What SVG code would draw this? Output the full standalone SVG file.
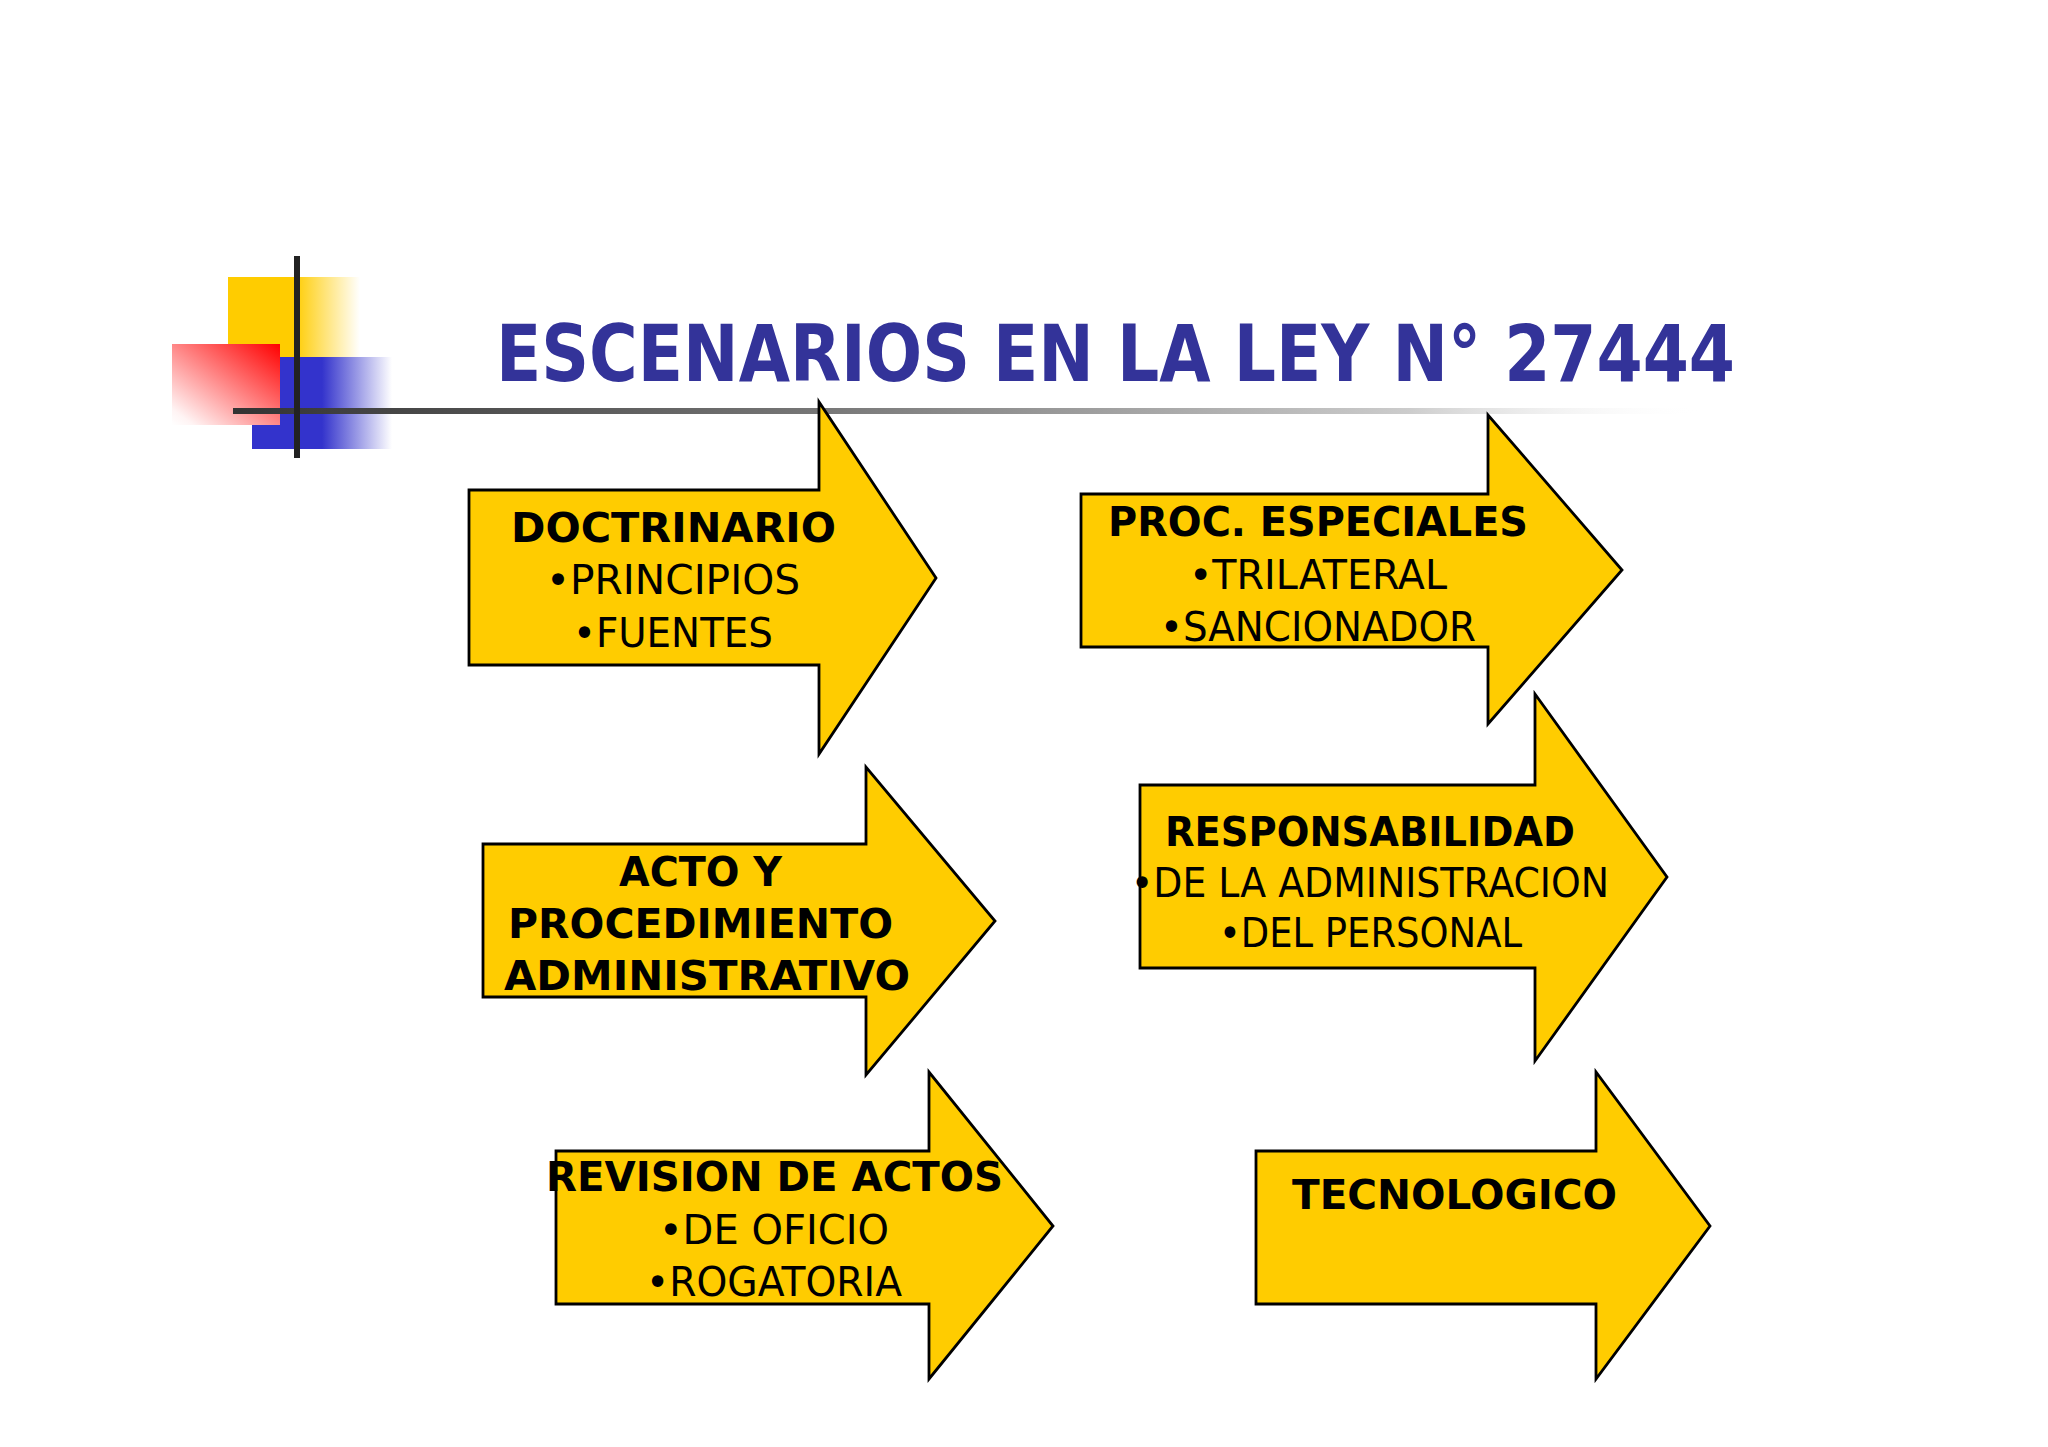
<svg xmlns="http://www.w3.org/2000/svg" width="2048" height="1447" viewBox="0 0 2048 1447">
<defs>
<style>
.arrow{fill:#FFCC00;stroke:#000;stroke-width:2.8;stroke-linejoin:miter}
.b{font-family:"DejaVu Sans","Liberation Sans",sans-serif;font-weight:bold;font-size:40px;fill:#000}
.r{font-family:"DejaVu Sans","Liberation Sans",sans-serif;font-size:40px;fill:#000}
.title{font-family:"DejaVu Sans","Liberation Sans",sans-serif;font-weight:bold;font-size:78px;fill:#333399}
</style>
<linearGradient id="gy" x1="0" y1="0" x2="1" y2="0">
<stop offset="0" stop-color="#FFCC00"/><stop offset="0.5" stop-color="#FFCC00"/><stop offset="1" stop-color="#FFCC00" stop-opacity="0"/>
</linearGradient>
<linearGradient id="gb" x1="0" y1="0" x2="1" y2="0">
<stop offset="0" stop-color="#3333CC"/><stop offset="0.5" stop-color="#3333CC"/><stop offset="1" stop-color="#3333CC" stop-opacity="0"/>
</linearGradient>
<linearGradient id="gr" x1="1" y1="0" x2="0" y2="1">
<stop offset="0" stop-color="#FF0000"/><stop offset="0.9" stop-color="#FFF4F4"/><stop offset="1" stop-color="#FFFFFF"/>
</linearGradient>
<linearGradient id="gl" x1="0" y1="0" x2="1" y2="0">
<stop offset="0" stop-color="#333333"/><stop offset="0.4" stop-color="#777777"/><stop offset="0.8" stop-color="#cccccc"/><stop offset="1" stop-color="#ffffff" stop-opacity="0"/>
</linearGradient>
</defs>
<rect width="2048" height="1447" fill="#ffffff"/>
<g id="logo">
<rect x="228" y="277" width="132" height="80" fill="url(#gy)"/>
<rect x="252" y="357" width="140" height="92" fill="url(#gb)"/>
<rect x="172" y="344" width="108" height="81" fill="url(#gr)"/>
<rect x="233" y="408" width="1470" height="6" fill="url(#gl)"/>
<rect x="294" y="256" width="6" height="202" fill="#222222"/>
</g>
<text id="title" class="title" x="496" y="381" textLength="1239" lengthAdjust="spacingAndGlyphs">ESCENARIOS EN LA LEY N° 27444</text>
<g id="connectors"></g>
<g id="doctrinario">
<polygon class="arrow" points="469,490 819,490 819,402 936,578 819,754 819,665 469,665"/>
<text class="b" x="511" y="542" textLength="325" lengthAdjust="spacingAndGlyphs">DOCTRINARIO</text>
<text class="r" x="546" y="594" textLength="254" lengthAdjust="spacingAndGlyphs">•PRINCIPIOS</text>
<text class="r" x="573" y="647" textLength="200" lengthAdjust="spacingAndGlyphs">•FUENTES</text>
</g>
<g id="proc-especiales">
<polygon class="arrow" points="1081,494 1488,494 1488,415 1622,570 1488,724 1488,647 1081,647"/>
<text class="b" x="1108" y="536" textLength="420" lengthAdjust="spacingAndGlyphs">PROC. ESPECIALES</text>
<text class="r" x="1189" y="589" textLength="258" lengthAdjust="spacingAndGlyphs">•TRILATERAL</text>
<text class="r" x="1160" y="641" textLength="316" lengthAdjust="spacingAndGlyphs">•SANCIONADOR</text>
</g>
<g id="acto-procedimiento">
<polygon class="arrow" points="483,844 866,844 866,767 995,921 866,1075 866,997 483,997"/>
<text class="b" x="619" y="886" textLength="163" lengthAdjust="spacingAndGlyphs">ACTO Y</text>
<text class="b" x="508" y="938" textLength="385" lengthAdjust="spacingAndGlyphs">PROCEDIMIENTO</text>
<text class="b" x="504" y="990" textLength="406" lengthAdjust="spacingAndGlyphs">ADMINISTRATIVO</text>
</g>
<g id="responsabilidad">
<polygon class="arrow" points="1140,785 1535,785 1535,694 1667,877 1535,1061 1535,968 1140,968"/>
<text class="b" x="1165" y="846" textLength="410" lengthAdjust="spacingAndGlyphs">RESPONSABILIDAD</text>
<text class="r" x="1131" y="897" textLength="478" lengthAdjust="spacingAndGlyphs">•DE LA ADMINISTRACION</text>
<text class="r" x="1219" y="947" textLength="303" lengthAdjust="spacingAndGlyphs">•DEL PERSONAL</text>
</g>
<g id="revision-actos">
<polygon class="arrow" points="556,1151 929,1151 929,1072 1053,1226 929,1379 929,1304 556,1304"/>
<text class="b" x="546" y="1191" textLength="457" lengthAdjust="spacingAndGlyphs">REVISION DE ACTOS</text>
<text class="r" x="659" y="1244" textLength="230" lengthAdjust="spacingAndGlyphs">•DE OFICIO</text>
<text class="r" x="646" y="1296" textLength="256" lengthAdjust="spacingAndGlyphs">•ROGATORIA</text>
</g>
<g id="tecnologico">
<polygon class="arrow" points="1256,1151 1596,1151 1596,1072 1710,1226 1596,1379 1596,1304 1256,1304"/>
<text class="b" x="1292" y="1209" textLength="325" lengthAdjust="spacingAndGlyphs">TECNOLOGICO</text>
</g>
</svg>
